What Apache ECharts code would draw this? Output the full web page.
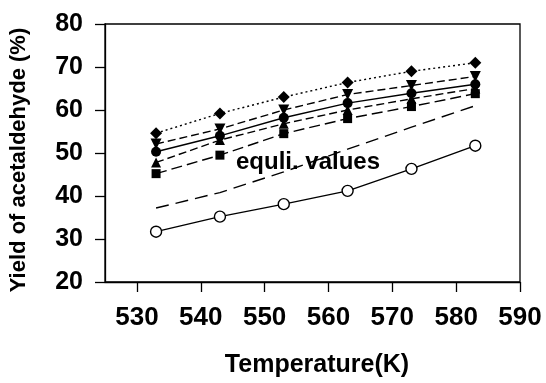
<!DOCTYPE html>
<html>
<head>
<meta charset="utf-8">
<script src="https://cdn.jsdelivr.net/npm/echarts@6/dist/echarts.min.js"></script>
<style>
html,body{margin:0;padding:0;background:#fff;}
#chart{width:546px;height:383px;}
</style>
</head>
<body>
<div id="chart"></div>
<script>
var temperatures = [533, 543, 553, 563, 573, 583];
var seriesDiamond = [54.6, 59.2, 63.0, 66.4, 69.0, 71.0];
var seriesInvTriangle = [52.1, 55.6, 60.0, 63.6, 65.7, 67.8];
var seriesCircle = [50.3, 54.0, 58.2, 61.6, 63.9, 66.0];
var seriesTriangle = [47.8, 53.0, 56.8, 60.0, 62.6, 65.0];
var seriesSquare = [45.2, 49.5, 54.5, 58.0, 60.8, 63.8];
var seriesEquilibrium = [37.2, 40.8, 45.6, 50.9, 56.0, 61.0];
var seriesOpenCircle = [31.7, 35.2, 38.1, 41.2, 46.3, 51.7];
var xTicks = [530, 540, 550, 560, 570, 580, 590];
var yTicks = [20, 30, 40, 50, 60, 70, 80];
var annotationText = 'equli. values';

function pairs(vals){ return temperatures.map(function(t,i){ return [t, vals[i]]; }); }

var FONT = '"Liberation Sans", Arial, Helvetica, sans-serif';
var chart = echarts.init(document.getElementById('chart'), null, {renderer:'canvas'});

function lineSeries(name, vals, symbol, size, lineType, extra){
  var s = {
    name: name, type: 'line', data: pairs(vals),
    symbol: symbol, symbolSize: size,
    itemStyle: {color: '#000'},
    lineStyle: {color: '#000', width: 1.4, type: lineType},
    animation: false
  };
  if (extra) for (var k in extra) s[k] = extra[k];
  return s;
}

var option = {
  backgroundColor: '#fff',
  animation: false,
  grid: {left: 103, top: 24, width: 417, height: 258, show: true, borderColor: '#000', borderWidth: 1.3, backgroundColor: 'transparent'},
  xAxis: {
    type: 'value', min: 525, max: 590,
    name: 'Temperature(K)', nameLocation: 'middle', nameGap: 71,
    nameTextStyle: {fontFamily: FONT, fontWeight: 'bold', fontSize: 25, color: '#000', padding: [0, 0, 0, 9]},
    axisLine: {show: true, lineStyle: {color: '#000', width: 1.3}},
    axisTick: {show: true, inside: false, length: 10, customValues: xTicks, lineStyle: {color: '#000', width: 1.3}},
    axisLabel: {customValues: xTicks, margin: 23, fontFamily: FONT, fontWeight: 'bold', fontSize: 26, color: '#000'},
    splitLine: {show: false}
  },
  yAxis: {
    type: 'value', min: 20, max: 80, interval: 10,
    name: 'Yield of acetaldehyde (%)', nameLocation: 'middle', nameGap: 75,
    nameTextStyle: {fontFamily: FONT, fontWeight: 'bold', fontSize: 22, color: '#000', padding: [0, 14, 0, 0]},
    axisLine: {show: true, lineStyle: {color: '#000', width: 1.3}},
    axisTick: {show: true, inside: false, length: 10, lineStyle: {color: '#000', width: 1.3}},
    axisLabel: {margin: 22, fontFamily: FONT, fontWeight: 'bold', fontSize: 25, color: '#000'},
    splitLine: {show: false}
  },
  graphic: [{
    type: 'text', left: 236, top: 150, z: 100,
    style: {text: annotationText, fontFamily: FONT, fontWeight: 'bold', fontSize: 24, fill: '#000'}
  }],
  series: [
    lineSeries('equilibrium', seriesEquilibrium, 'none', 0, [13, 7]),
    lineSeries('open circle', seriesOpenCircle, 'circle', 11, 'solid', {itemStyle: {color: '#fff', borderColor: '#000', borderWidth: 1.4}}),
    lineSeries('square', seriesSquare, 'rect', 9, [11, 5]),
    lineSeries('triangle', seriesTriangle, 'triangle', 10, [8, 4]),
    lineSeries('circle', seriesCircle, 'circle', 10, 'solid'),
    lineSeries('inverted triangle', seriesInvTriangle, 'triangle', 11, [8, 4], {symbolRotate: 180}),
    lineSeries('diamond', seriesDiamond, 'diamond', 12, [2, 3])
  ]
};
chart.setOption(option);
</script>
</body>
</html>
